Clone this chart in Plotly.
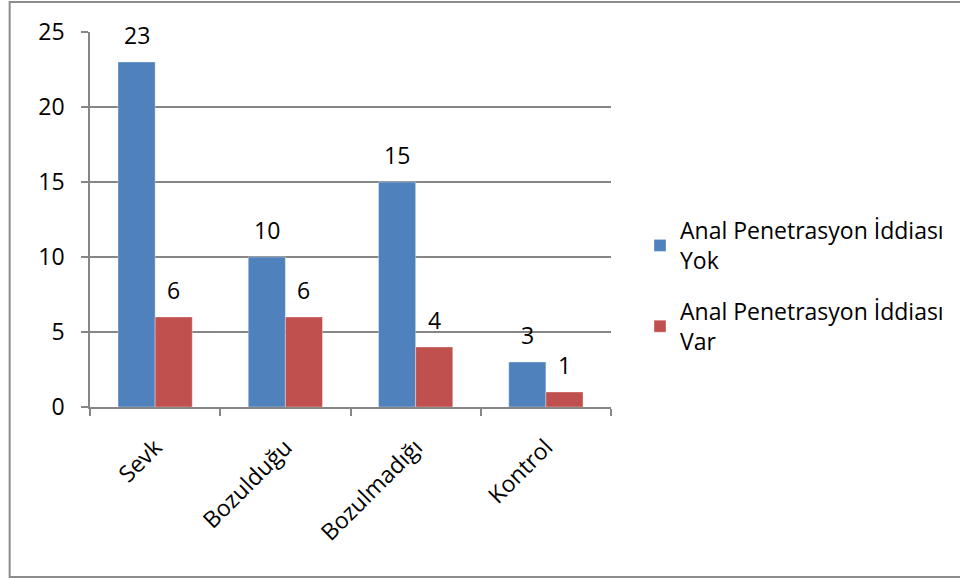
import plotly.graph_objects as go

categories = ["Sevk", "Bozulduğu", "Bozulmadığı", "Kontrol"]
series_names = ["Anal Penetrasyon İddiası<br>Yok", "Anal Penetrasyon İddiası<br>Var"]
values_yok = [23, 10, 15, 3]
values_var = [6, 6, 4, 1]
y_ticks = [0, 5, 10, 15, 20, 25]

FONT = "Open Sans"
FS = 23
W, H = 960, 578
L, R, T, B = 90, 612, 32, 407  # plot area edges in pixels
BAR_HALF = 18.5  # horizontal offset of each bar centre from the category centre

fig = go.Figure()
annotations = []
for i, (name, vals, color) in enumerate([
    (series_names[0], values_yok, "#4F81BD"),
    (series_names[1], values_var, "#C0504D"),
]):
    fig.add_trace(go.Bar(
        x=categories, y=vals, name=name, legendgroup=f"g{i}",
        marker=dict(color=color, line=dict(color="rgba(255,255,255,0.35)", width=1)),
    ))
    shift = -BAR_HALF if i == 0 else BAR_HALF
    for c, v in zip(categories, vals):
        annotations.append(dict(
            x=c, y=v, xref="x", yref="y", text=str(v), showarrow=False,
            xshift=shift, yshift=27, font=dict(family=FONT, size=FS, color="#000000"),
        ))

def px_x(p):
    return (p - L) / (R - L)

def px_y(p):
    return (B - p) / (B - T)

fig.update_layout(
    width=W, height=H,
    margin=dict(l=L, r=W - R, t=T, b=H - B),
    paper_bgcolor="white", plot_bgcolor="white",
    barmode="group", bargap=0.43, bargroupgap=0,
    font=dict(family=FONT, size=FS, color="#000000"),
    showlegend=True,
    legend=dict(
        x=px_x(640), y=px_y(209), xanchor="left", yanchor="top",
        font=dict(family=FONT, size=FS, color="#000000"),
        tracegroupgap=18, itemwidth=30, bgcolor="rgba(0,0,0,0)",
    ),
    annotations=annotations,
    shapes=[dict(
        type="rect", xref="paper", yref="paper",
        x0=px_x(9.5), x1=px_x(965), y0=px_y(577), y1=px_y(2),
        line=dict(color="#8C8C8C", width=2), fillcolor="rgba(0,0,0,0)",
        layer="below",
    )],
)

fig.update_xaxes(
    type="category", tickangle=-45, tickson="boundaries",
    ticks="outside", ticklen=7, tickcolor="#868686", tickwidth=1.5,
    showline=True, linecolor="#868686", linewidth=1.5,
    showgrid=False, ticklabelstandoff=16,
    tickfont=dict(family=FONT, size=FS, color="#000000"),
)
fig.update_yaxes(
    range=[0, 25], tickvals=y_ticks, ticktext=[str(v) for v in y_ticks],
    ticks="outside", ticklen=7, tickcolor="#868686", tickwidth=1.5,
    showline=True, linecolor="#868686", linewidth=1.5,
    showgrid=True, gridcolor="#868686", gridwidth=1.5,
    zeroline=False, ticklabelstandoff=12,
    tickfont=dict(family=FONT, size=FS, color="#000000"),
)

fig.write_html("out.html")
